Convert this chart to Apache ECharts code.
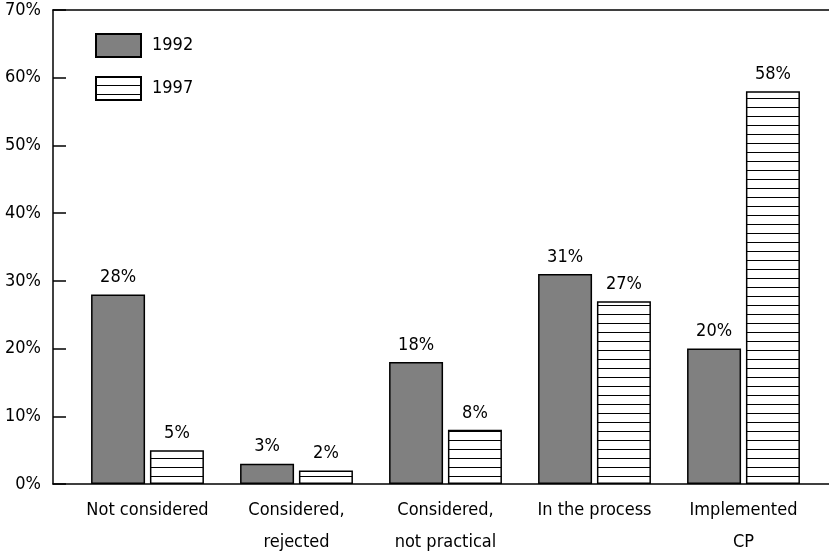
<!DOCTYPE html>
<html>
<head>
<meta charset="utf-8">
<script src="https://cdn.jsdelivr.net/npm/echarts@6/dist/echarts.min.js"></script>
<style>
  html, body { margin: 0; padding: 0; background: #fff; }
  #chart { width: 829px; height: 555px; }
</style>
</head>
<body>
<div id="chart"></div>
<script>
const categories = ["Not considered", "Considered,\nrejected", "Considered,\nnot practical", "In the process", "Implemented\nCP"];
const values1992 = [28, 3, 18, 31, 20];
const values1997 = [5, 2, 8, 27, 58];
const yTicks = [0, 10, 20, 30, 40, 50, 60, 70];

const FONT = "'DejaVu Sans Condensed', 'Liberation Sans', sans-serif";

// horizontal line hatching for 1997 bars
function hatch() {
  const c = document.createElement("canvas");
  c.width = 8; c.height = 9;
  const g = c.getContext("2d");
  g.fillStyle = "#fff";
  g.fillRect(0, 0, 8, 9);
  g.fillStyle = "#000";
  g.fillRect(0, 8, 8, 1);
  return c;
}

const chart = echarts.init(document.getElementById("chart"));
const txt = { color: "#000", fontFamily: FONT, fontSize: 18 };

chart.setOption({
  backgroundColor: "#fff",
  animation: false,
  legend: {
    orient: "vertical",
    left: 90,
    top: 28,
    icon: "rect",
    itemWidth: 45,
    itemHeight: 23,
    itemGap: 18,
    textStyle: { ...txt, padding: [0, 0, 0, 6] },
    data: ["1992", "1997"],
  },
  grid: [
    { left: 53, right: 0, top: 10, bottom: 71, outerBoundsMode: "none" },
    { left: 73, width: 745, top: 10, bottom: 71, outerBoundsMode: "none" },
  ],
  xAxis: [
    {
      gridIndex: 0, type: "value", min: 0, max: 1, position: "bottom",
      axisLine: { show: true, lineStyle: { color: "#000", width: 1.5 } },
      axisTick: { show: false }, axisLabel: { show: false }, splitLine: { show: false },
    },
    {
      gridIndex: 0, type: "value", min: 0, max: 1, position: "top",
      axisLine: { show: true, lineStyle: { color: "#000", width: 1.5 } },
      axisTick: { show: false }, axisLabel: { show: false }, splitLine: { show: false },
    },
    {
      gridIndex: 1, type: "category", data: categories,
      axisLine: { show: false }, axisTick: { show: false },
      axisLabel: { ...txt, margin: 10, lineHeight: 32, interval: 0 },
    },
  ],
  yAxis: [
    {
      gridIndex: 0, type: "value", min: 0, max: 70, interval: 10,
      axisLine: { show: true, lineStyle: { color: "#000", width: 1.5 } },
      axisTick: { show: true, inside: true, length: 13, lineStyle: { color: "#000", width: 1.5 } },
      axisLabel: { ...txt, margin: 12, formatter: (v) => (yTicks.includes(v) ? v + "%" : "") },
      splitLine: { show: false },
    },
    { gridIndex: 1, type: "value", min: 0, max: 70, show: false },
  ],
  series: [
    {
      name: "1992", type: "bar", xAxisIndex: 2, yAxisIndex: 1,
      barWidth: 54, barGap: "9%",
      data: values1992,
      itemStyle: { color: "#808080", borderColor: "#000", borderWidth: 1.5 },
      label: { show: true, position: "top", distance: 8, ...txt, formatter: "{c}%" },
    },
    {
      name: "1997", type: "bar", xAxisIndex: 2, yAxisIndex: 1,
      barWidth: 54, barGap: "9%",
      data: values1997,
      itemStyle: { color: { image: hatch(), repeat: "repeat" }, borderColor: "#000", borderWidth: 1.5 },
      label: { show: true, position: "top", distance: 8, ...txt, formatter: "{c}%" },
    },
  ],
});
</script>
</body>
</html>
